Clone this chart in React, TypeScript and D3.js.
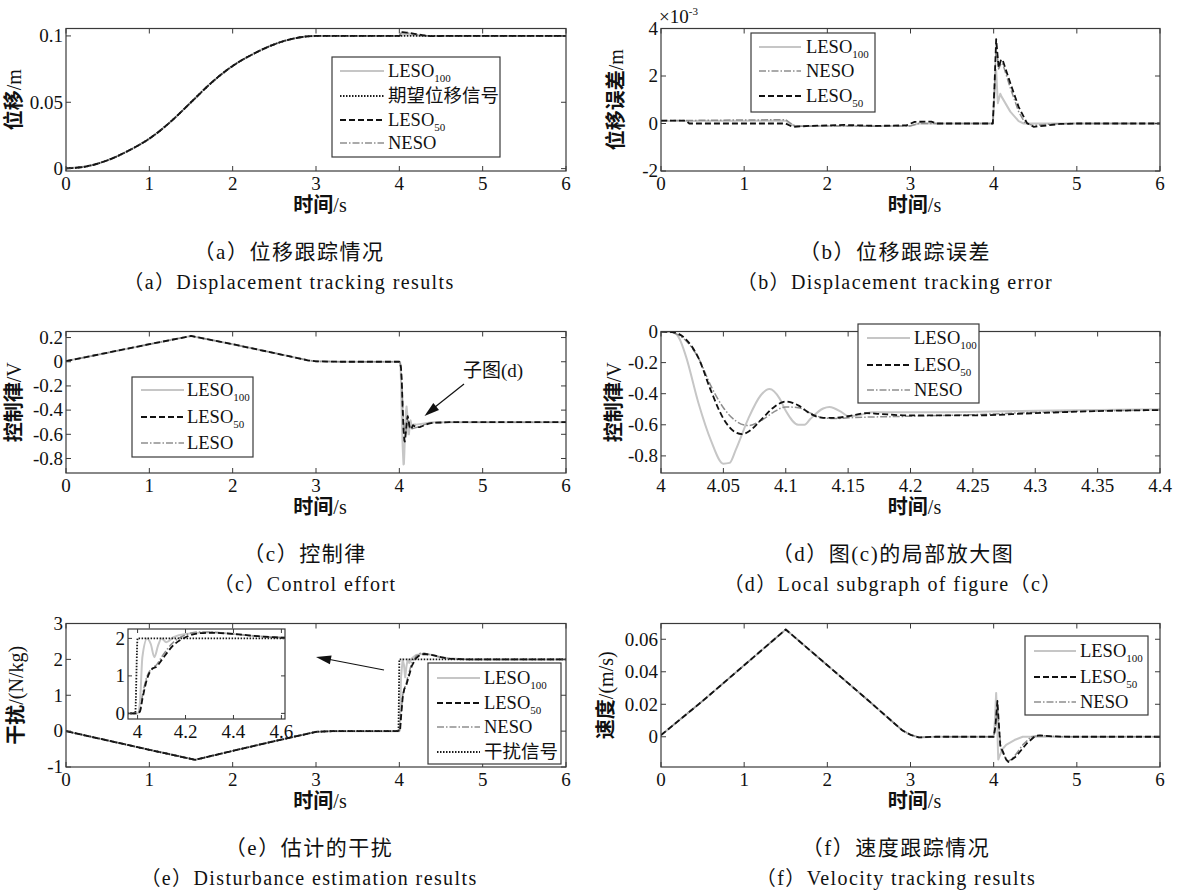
import * as d3 from 'd3';

type Pt = [number, number];

// ---------- ticks ----------
const timeTicks = [0, 1, 2, 3, 4, 5, 6];
const zoomTimeTicks = [4, 4.05, 4.1, 4.15, 4.2, 4.25, 4.3, 4.35, 4.4];
const insetTimeTicks = [4, 4.2, 4.4, 4.6];
const insetDistTicks = [0, 1, 2];
const posTicks = [0, 0.05, 0.1];
const errTicks = [-2, 0, 2, 4]; // x 10^-3
const ctrlTicks = [-0.8, -0.6, -0.4, -0.2, 0, 0.2];
const zoomCtrlTicks = [-0.8, -0.6, -0.4, -0.2, 0];
const distTicks = [-1, 0, 1, 2, 3];
const velTicks = [0, 0.02, 0.04, 0.06];

// ---------- (a) displacement ----------
const posRamp: Pt[] = [[0, 0.0002], [0.25, 0.0017], [0.5, 0.0063], [0.75, 0.0135], [1, 0.0226], [1.25, 0.035], [1.5, 0.05], [1.75, 0.065], [2, 0.0774], [2.25, 0.0865], [2.5, 0.0937], [2.75, 0.0983], [3, 0.1], [4, 0.1]];
const posRefTail: Pt[] = [[6, 0.1]];
const posLeso100Tail: Pt[] = [[4.03, 0.1021], [4.05, 0.101], [4.1, 0.1013], [4.2, 0.1005], [4.3, 0.1], [6, 0.1]];
const posLeso50Tail: Pt[] = [[4.03, 0.1028], [4.1, 0.1024], [4.2, 0.1014], [4.3, 0.1004], [4.4, 0.0999], [4.6, 0.1], [6, 0.1]];
const posNesoTail: Pt[] = [[4.03, 0.1027], [4.1, 0.1022], [4.2, 0.1012], [4.3, 0.1003], [4.4, 0.1], [6, 0.1]];

// ---------- (b) displacement error, units of 1e-3 m ----------
const errLeso50: Pt[] = [[0, 0.12], [0.3, 0.12], [0.34, 0], [1.5, 0], [1.58, -0.14], [1.8, -0.1], [2.2, -0.06], [2.6, -0.1], [2.95, -0.08], [3.05, 0.07], [3.25, 0.08], [3.32, 0], [3.99, 0], [4.01, 1.6], [4.03, 3.55], [4.06, 2.35], [4.09, 2.7], [4.11, 2.65], [4.2, 1.7], [4.3, 0.7], [4.4, 0.02], [4.48, -0.14], [4.6, -0.1], [4.8, -0.02], [5, 0], [6, 0]];
const errNeso: Pt[] = [[0, 0.12], [1.5, 0.16], [1.56, 0], [1.62, -0.12], [2, -0.1], [2.5, -0.12], [3, -0.1], [3.1, 0], [3.99, 0], [4.01, 1.5], [4.03, 3.35], [4.06, 2.3], [4.09, 2.55], [4.11, 2.5], [4.2, 1.5], [4.3, 0.5], [4.38, 0], [4.48, -0.08], [4.7, -0.02], [5, 0], [6, 0]];
const errLeso100: Pt[] = [[0, 0.1], [1.5, 0.12], [1.6, -0.1], [3, -0.1], [3.1, 0], [3.99, 0], [4.01, 1.2], [4.03, 2.25], [4.05, 0.85], [4.08, 1.25], [4.1, 1.1], [4.2, 0.5], [4.3, 0.1], [4.36, 0], [6, 0]];

// ---------- (c)/(d) control effort ----------
const ctrlRamp: Pt[] = [[0, 0.005], [0.5, 0.075], [1, 0.145], [1.5, 0.213], [2, 0.145], [2.5, 0.072], [2.9, 0.012], [3, 0.003], [3.3, 0], [3.95, 0]];
const ctrlLeso100Zoom: Pt[] = [[4, 0], [4.01, -0.005], [4.015, -0.05], [4.02, -0.16], [4.03, -0.46], [4.04, -0.7], [4.05, -0.85], [4.055, -0.845], [4.06, -0.76], [4.07, -0.56], [4.08, -0.41], [4.087, -0.37], [4.095, -0.43], [4.1, -0.51], [4.11, -0.6], [4.115, -0.6], [4.12, -0.56], [4.13, -0.495], [4.135, -0.485], [4.145, -0.52], [4.15, -0.545], [4.16, -0.535], [4.17, -0.52], [4.2, -0.52], [4.3, -0.51], [4.4, -0.5]];
const ctrlLeso50Zoom: Pt[] = [[4, 0], [4.01, -0.005], [4.02, -0.05], [4.03, -0.17], [4.04, -0.38], [4.05, -0.56], [4.06, -0.65], [4.065, -0.66], [4.07, -0.645], [4.08, -0.57], [4.09, -0.49], [4.1, -0.45], [4.11, -0.475], [4.12, -0.53], [4.13, -0.555], [4.14, -0.555], [4.15, -0.545], [4.165, -0.525], [4.175, -0.53], [4.2, -0.54], [4.25, -0.54], [4.3, -0.525], [4.35, -0.512], [4.4, -0.505]];
const ctrlNesoZoom: Pt[] = [[4, 0], [4.01, -0.01], [4.02, -0.06], [4.03, -0.17], [4.04, -0.35], [4.05, -0.49], [4.06, -0.575], [4.07, -0.605], [4.08, -0.575], [4.09, -0.52], [4.1, -0.485], [4.11, -0.49], [4.12, -0.525], [4.13, -0.555], [4.14, -0.56], [4.15, -0.555], [4.2, -0.545], [4.25, -0.535], [4.3, -0.52], [4.4, -0.505]];
const ctrlTail: Pt[] = [[4.6, -0.5], [6, -0.5]];

// ---------- (e) disturbance ----------
const distRamp: Pt[] = [[0, 0], [0.5, -0.26], [1, -0.52], [1.55, -0.8], [2, -0.55], [2.5, -0.28], [3, -0.02], [3.2, 0], [3.99, 0]];
const distSignalTail: Pt[] = [[4.0, 2], [6, 2]];
const distLeso100Tail: Pt[] = [[4.0, 0], [4.01, 0.3], [4.02, 1.5], [4.04, 2.0], [4.055, 1.85], [4.07, 1.5], [4.085, 1.8], [4.1, 2.0], [4.12, 1.9], [4.15, 2.03], [4.2, 2.12], [4.3, 2.16], [4.4, 2.12], [4.5, 2.06], [4.6, 2.03], [4.8, 2.0], [6, 2]];
const distLeso50Tail: Pt[] = [[4.0, 0], [4.01, 0.05], [4.02, 0.38], [4.04, 0.93], [4.06, 1.18], [4.08, 1.25], [4.1, 1.42], [4.15, 1.82], [4.2, 2.03], [4.25, 2.13], [4.3, 2.15], [4.4, 2.12], [4.5, 2.06], [4.6, 2.02], [4.8, 2.0], [6, 2]];
const distNesoTail: Pt[] = [[4.0, 0], [4.01, 0.08], [4.02, 0.47], [4.04, 1.0], [4.06, 1.2], [4.08, 1.3], [4.1, 1.5], [4.15, 1.9], [4.2, 2.09], [4.25, 2.17], [4.3, 2.17], [4.4, 2.11], [4.5, 2.06], [4.6, 2.02], [4.8, 2.0], [6, 2]];

// ---------- (f) velocity ----------
const velRamp: Pt[] = [[0, 0.001], [0.5, 0.022], [1, 0.044], [1.5, 0.066], [2, 0.044], [2.5, 0.022], [2.9, 0.004], [3, 0.0012], [3.1, -0.0004], [3.3, 0], [3.99, 0]];
const velLeso100Tail: Pt[] = [[4.0, 0], [4.015, 0.01], [4.03, 0.027], [4.04, 0.012], [4.055, -0.014], [4.07, -0.012], [4.1, -0.008], [4.15, -0.005], [4.25, -0.002], [4.35, 0], [6, 0]];
const velLeso50Tail: Pt[] = [[4.0, 0], [4.02, 0.006], [4.045, 0.022], [4.06, 0.01], [4.08, -0.006], [4.11, -0.009], [4.15, -0.014], [4.18, -0.0155], [4.27, -0.012], [4.4, -0.004], [4.5, 0.0005], [4.55, 0.0008], [4.7, 0.0003], [4.9, 0], [6, 0]];
const velNesoTail: Pt[] = [[4.0, 0], [4.02, 0.005], [4.045, 0.02], [4.06, 0.008], [4.09, -0.008], [4.13, -0.012], [4.17, -0.0155], [4.25, -0.012], [4.35, -0.005], [4.45, 0], [4.55, 0.0008], [4.8, 0], [6, 0]];

// ---------- styles ----------
const FONT = '"Liberation Serif", "Times New Roman", "Noto Sans CJK SC", serif';
const AXIS = '#3a3a3a';
const TICK_SIZE = 19;

interface Style { stroke: string; width: number; dash?: string }
const S_LESO100: Style = { stroke: '#c6c6c6', width: 2 };
const S_LESO50: Style = { stroke: '#111111', width: 1.8, dash: '6 3' };
const S_NESO: Style = { stroke: '#8e8e8e', width: 1.5, dash: '7 2 1.5 2' };
const S_REF: Style = { stroke: '#1a1a1a', width: 1.8, dash: '1.5 1.5' };

interface Series { data: Pt[]; style: Style }
interface LegendItem { main: string; sub?: string; style: Style }
interface LegendSpec { box: [number, number, number, number]; rows: number[]; lineX: [number, number]; textX: number; items: LegendItem[] }
interface PanelSpec {
  id: string;
  box: [number, number, number, number];
  xDomain: [number, number];
  yDomain: [number, number];
  xTicks: number[];
  yTicks: number[];
  series: Series[];
  curve: d3.CurveFactory;
  ylabel: string;
  ylabelX: number;
  legend: LegendSpec;
  captionX: number;
  captionCn: string;
  captionEn: string;
}

const L = [66, 566];
const R = [661, 1160];
const ROW1 = [28.5, 171];
const ROW2 = [331.5, 473];
const ROW3 = [623.5, 767];

const panels: PanelSpec[] = [
  {
    id: 'a', box: [L[0], ROW1[0], L[1], ROW1[1]], xDomain: [0, 6], yDomain: [-0.0018, 0.1056],
    xTicks: timeTicks, yTicks: posTicks, curve: d3.curveMonotoneX,
    series: [
      { data: [...posRamp, ...posLeso100Tail], style: S_LESO100 },
      { data: [...posRamp, ...posNesoTail], style: S_NESO },
      { data: [...posRamp, ...posLeso50Tail], style: S_LESO50 },
      { data: [...posRamp, ...posRefTail], style: S_REF },
    ],
    ylabel: '位移/m', ylabelX: 14,
    legend: {
      box: [332, 57, 500, 157], rows: [71, 96, 120, 143], lineX: [340, 384], textX: 388,
      items: [
        { main: 'LESO', sub: '100', style: S_LESO100 },
        { main: '期望位移信号', style: S_REF },
        { main: 'LESO', sub: '50', style: S_LESO50 },
        { main: 'NESO', style: S_NESO },
      ],
    },
    captionX: 289, captionCn: '（a）位移跟踪情况', captionEn: '（a）Displacement tracking results',
  },
  {
    id: 'b', box: [R[0], ROW1[0], R[1], ROW1[1]], xDomain: [0, 6], yDomain: [-2, 4],
    xTicks: timeTicks, yTicks: errTicks, curve: d3.curveLinear,
    series: [
      { data: errLeso100, style: S_LESO100 },
      { data: errNeso, style: S_NESO },
      { data: errLeso50, style: S_LESO50 },
    ],
    ylabel: '位移误差/m', ylabelX: 616,
    legend: {
      box: [751, 33, 875, 112], rows: [47, 71, 96], lineX: [759, 801], textX: 806,
      items: [
        { main: 'LESO', sub: '100', style: S_LESO100 },
        { main: 'NESO', style: S_NESO },
        { main: 'LESO', sub: '50', style: S_LESO50 },
      ],
    },
    captionX: 895, captionCn: '（b）位移跟踪误差', captionEn: '（b）Displacement tracking error',
  },
  {
    id: 'c', box: [L[0], ROW2[0], L[1], ROW2[1]], xDomain: [0, 6], yDomain: [-0.92, 0.25],
    xTicks: timeTicks, yTicks: ctrlTicks, curve: d3.curveLinear,
    series: [
      { data: [...ctrlRamp, ...ctrlLeso100Zoom, ...ctrlTail], style: S_LESO100 },
      { data: [...ctrlRamp, ...ctrlNesoZoom, ...ctrlTail], style: S_NESO },
      { data: [...ctrlRamp, ...ctrlLeso50Zoom, ...ctrlTail], style: S_LESO50 },
    ],
    ylabel: '控制律/V', ylabelX: 14,
    legend: {
      box: [132, 377, 253, 457], rows: [390, 417, 443], lineX: [141, 184], textX: 187,
      items: [
        { main: 'LESO', sub: '100', style: S_LESO100 },
        { main: 'LESO', sub: '50', style: S_LESO50 },
        { main: 'LESO', style: S_NESO },
      ],
    },
    captionX: 305, captionCn: '（c）控制律', captionEn: '（c）Control effort',
  },
  {
    id: 'd', box: [R[0], ROW2[0], R[1], ROW2[1]], xDomain: [4, 4.4], yDomain: [-0.91, 0],
    xTicks: zoomTimeTicks, yTicks: zoomCtrlTicks, curve: d3.curveMonotoneX,
    series: [
      { data: ctrlLeso100Zoom, style: S_LESO100 },
      { data: ctrlNesoZoom, style: S_NESO },
      { data: ctrlLeso50Zoom, style: S_LESO50 },
    ],
    ylabel: '控制律/V', ylabelX: 614,
    legend: {
      box: [858, 324, 979, 403], rows: [338, 365, 390], lineX: [867, 910], textX: 914,
      items: [
        { main: 'LESO', sub: '100', style: S_LESO100 },
        { main: 'LESO', sub: '50', style: S_LESO50 },
        { main: 'NESO', style: S_NESO },
      ],
    },
    captionX: 893, captionCn: '（d）图(c)的局部放大图', captionEn: '（d）Local subgraph of figure（c）',
  },
  {
    id: 'e', box: [L[0], ROW3[0], L[1], ROW3[1]], xDomain: [0, 6], yDomain: [-1, 3],
    xTicks: timeTicks, yTicks: distTicks, curve: d3.curveLinear,
    series: [
      { data: [...distRamp, ...distLeso100Tail], style: S_LESO100 },
      { data: [...distRamp, ...distNesoTail], style: S_NESO },
      { data: [...distRamp, ...distLeso50Tail], style: S_LESO50 },
      { data: [...distRamp, ...distSignalTail], style: S_REF },
    ],
    ylabel: '干扰/(N/kg)', ylabelX: 16,
    legend: {
      box: [428, 663, 561, 764], rows: [678, 703, 727, 752], lineX: [437, 480], textX: 484,
      items: [
        { main: 'LESO', sub: '100', style: S_LESO100 },
        { main: 'LESO', sub: '50', style: S_LESO50 },
        { main: 'NESO', style: S_NESO },
        { main: '干扰信号', style: S_REF },
      ],
    },
    captionX: 309, captionCn: '（e）估计的干扰', captionEn: '（e）Disturbance estimation results',
  },
  {
    id: 'f', box: [R[0], ROW3[0], R[1], ROW3[1]], xDomain: [0, 6], yDomain: [-0.0186, 0.0697],
    xTicks: timeTicks, yTicks: velTicks, curve: d3.curveLinear,
    series: [
      { data: [...velRamp, ...velLeso100Tail], style: S_LESO100 },
      { data: [...velRamp, ...velNesoTail], style: S_NESO },
      { data: [...velRamp, ...velLeso50Tail], style: S_LESO50 },
    ],
    ylabel: '速度/(m/s)', ylabelX: 606,
    legend: {
      box: [1025, 636, 1148, 715], rows: [651, 677, 702], lineX: [1034, 1076], textX: 1080,
      items: [
        { main: 'LESO', sub: '100', style: S_LESO100 },
        { main: 'LESO', sub: '50', style: S_LESO50 },
        { main: 'NESO', style: S_NESO },
      ],
    },
    captionX: 896, captionCn: '（f）速度跟踪情况', captionEn: '（f）Velocity tracking results',
  },
];

const fmt = (v: number) => String(+v.toFixed(3));

// Chinese characters bold, latin part regular (like the original labels)
function mixedLabel(s: string) {
  return s.split(/([\u4e00-\u9fff]+)/).filter(Boolean).map((part, i) =>
    /[\u4e00-\u9fff]/.test(part)
      ? <tspan key={i} fontWeight="bold">{part}</tspan>
      : <tspan key={i}>{part}</tspan>);
}

function arrowHead(x1: number, y1: number, x2: number, y2: number, len = 15, half = 4.5) {
  const dx = x2 - x1;
  const dy = y2 - y1;
  const n = Math.hypot(dx, dy);
  const ux = dx / n;
  const uy = dy / n;
  const bx = x2 - ux * len;
  const by = y2 - uy * len;
  return `${x2},${y2} ${bx - uy * half},${by + ux * half} ${bx + uy * half},${by - ux * half}`;
}

function Ticks({ x, y, box, xTicks, yTicks, size = TICK_SIZE, tl = 5 }: {
  x: d3.ScaleLinear<number, number>; y: d3.ScaleLinear<number, number>;
  box: [number, number, number, number]; xTicks: number[]; yTicks: number[]; size?: number; tl?: number;
}) {
  const [x0, y0, x1, y1] = box;
  return (
    <g>
      {xTicks.map(t => (
        <g key={`x${t}`}>
          <line x1={x(t)} x2={x(t)} y1={y1} y2={y1 - tl} stroke={AXIS} />
          <line x1={x(t)} x2={x(t)} y1={y0} y2={y0 + tl} stroke={AXIS} />
          <text x={x(t)} y={y1 + 19} textAnchor="middle" fontSize={size}>{fmt(t)}</text>
        </g>
      ))}
      {yTicks.map(t => (
        <g key={`y${t}`}>
          <line x1={x0} x2={x0 + tl} y1={y(t)} y2={y(t)} stroke={AXIS} />
          <line x1={x1} x2={x1 - tl} y1={y(t)} y2={y(t)} stroke={AXIS} />
          <text x={x0 - 3} y={y(t)} dy="0.33em" textAnchor="end" fontSize={size}>{fmt(t)}</text>
        </g>
      ))}
      <rect x={x0} y={y0} width={x1 - x0} height={y1 - y0} fill="none" stroke={AXIS} strokeWidth={1.2} />
    </g>
  );
}

function Legend({ spec }: { spec: LegendSpec }) {
  const [lx0, ly0, lx1, ly1] = spec.box;
  return (
    <g>
      <rect x={lx0} y={ly0} width={lx1 - lx0} height={ly1 - ly0} fill="#fff" stroke={AXIS} strokeWidth={1.2} />
      {spec.items.map((it, i) => (
        <g key={i}>
          <line x1={spec.lineX[0]} x2={spec.lineX[1]} y1={spec.rows[i]} y2={spec.rows[i]}
            stroke={it.style.stroke} strokeWidth={it.style.width} strokeDasharray={it.style.dash} />
          <text x={spec.textX} y={spec.rows[i] + 6} fontSize={18.5}>
            {it.main}
            {it.sub && <tspan fontSize={11} dy={5}>{it.sub}</tspan>}
          </text>
        </g>
      ))}
    </g>
  );
}

function Panel({ p }: { p: PanelSpec }) {
  const [x0, y0, x1, y1] = p.box;
  const x = d3.scaleLinear().domain(p.xDomain).range([x0, x1]);
  const y = d3.scaleLinear().domain(p.yDomain).range([y1, y0]);
  const line = d3.line<Pt>().x(d => x(d[0])).y(d => y(d[1])).curve(p.curve);
  return (
    <g>
      <defs>
        <clipPath id={`clip-${p.id}`}><rect x={x0} y={y0} width={x1 - x0} height={y1 - y0} /></clipPath>
      </defs>
      <g clipPath={`url(#clip-${p.id})`}>
        {p.series.map((s, i) => (
          <path key={i} d={line(s.data) ?? ''} fill="none" stroke={s.style.stroke}
            strokeWidth={s.style.width} strokeDasharray={s.style.dash} strokeLinejoin="round" />
        ))}
      </g>
      <Ticks x={x} y={y} box={p.box} xTicks={p.xTicks} yTicks={p.yTicks} />
      <text transform={`translate(${p.ylabelX},${(y0 + y1) / 2}) rotate(-90)`} textAnchor="middle"
        dominantBaseline="central" fontSize={20}>{mixedLabel(p.ylabel)}</text>
      <text x={(x0 + x1) / 2 + 4} y={y1 + 41} textAnchor="middle" fontSize={20}>{mixedLabel('时间/s')}</text>
      <Legend spec={p.legend} />
      <text x={p.captionX} y={y1 + 88} textAnchor="middle" fontSize={21} letterSpacing={1.5}>{p.captionCn}</text>
      <text x={p.captionX} y={y1 + 118} textAnchor="middle" fontSize={20} letterSpacing={1.4}>{p.captionEn}</text>
    </g>
  );
}

function DisturbanceInset() {
  const box: [number, number, number, number] = [128, 629, 285, 719];
  const x = d3.scaleLinear().domain([3.96, 4.615]).range([box[0], box[2]]);
  const y = d3.scaleLinear().domain([-0.15, 2.25]).range([box[3], box[1]]);
  const line = d3.line<Pt>().x(d => x(d[0])).y(d => y(d[1])).curve(d3.curveMonotoneX);
  const series: Series[] = [
    { data: [...distRamp, ...distLeso100Tail], style: S_LESO100 },
    { data: [...distRamp, ...distNesoTail], style: S_NESO },
    { data: [...distRamp, ...distLeso50Tail], style: S_LESO50 },
    { data: [...distRamp, ...distSignalTail], style: S_REF },
  ];
  return (
    <g>
      <defs>
        <clipPath id="clip-inset"><rect x={box[0]} y={box[1]} width={box[2] - box[0]} height={box[3] - box[1]} /></clipPath>
      </defs>
      <rect x={box[0]} y={box[1]} width={box[2] - box[0]} height={box[3] - box[1]} fill="#fff" />
      <g clipPath="url(#clip-inset)">
        {series.map((s, i) => (
          <path key={i} d={line(s.data) ?? ''} fill="none" stroke={s.style.stroke}
            strokeWidth={s.style.width} strokeDasharray={s.style.dash} />
        ))}
      </g>
      <Ticks x={x} y={y} box={box} xTicks={insetTimeTicks} yTicks={insetDistTicks} tl={4} />
    </g>
  );
}

export default function App() {
  return (
    <div style={{ position: 'absolute', left: 0, top: 0 }}>
      <svg width={1184} height={895} style={{ display: 'block', background: '#fff' }} fontFamily={FONT} fill="#111">
        {panels.map(p => <Panel key={p.id} p={p} />)}
        {/* x10^-3 exponent of panel (b) */}
        <text x={659} y={23} fontSize={19}>×10<tspan fontSize={11} dy={-8}>-3</tspan></text>
        {/* annotation in (c) */}
        <text x={463} y={377} fontSize={19}>子图(d)</text>
        <line x1={464} y1={384} x2={430} y2={411} stroke="#111" strokeWidth={1.2} />
        <polygon points={arrowHead(464, 384, 424.5, 416)} fill="#111" />
        {/* arrow in (e) */}
        <line x1={384} y1={670} x2={322} y2={658} stroke="#111" strokeWidth={1.2} />
        <polygon points={arrowHead(384, 670, 316, 657)} fill="#111" />
        <DisturbanceInset />
      </svg>
    </div>
  );
}
